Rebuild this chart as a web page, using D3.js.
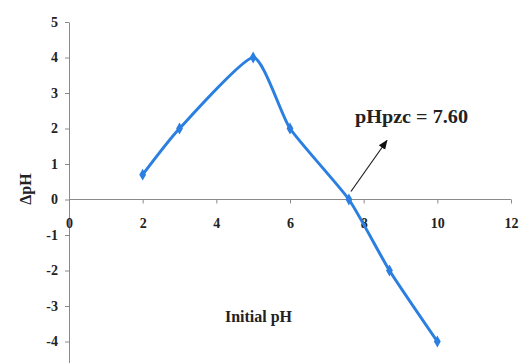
<!DOCTYPE html>
<html>
<head>
<meta charset="utf-8">
<style>
  body { margin: 0; background: #fff; }
  svg { display: block; font-family: 'Liberation Serif', 'Times New Roman', serif; }
  .axis path, .axis line { stroke: #8a8a8a; }
  .axis text { font-family: 'Liberation Serif', 'Times New Roman', serif; font-size: 14px; font-weight: bold; fill: #222; }
</style>
</head>
<body>
<svg width="523" height="363"></svg>
<script src="https://d3js.org/d3.v7.min.js"></script>
<script>
  // data
  let initialPH = [2, 3, 5, 6, 7.6, 8.7, 10];
  let deltaPH = [0.7, 2, 4, 2, 0, -2, -4];
  let xTicks = [0, 2, 4, 6, 8, 10, 12];
  let yTicks = [-4, -3, -2, -1, 0, 1, 2, 3, 4, 5];
  let pzc = 7.60;

  let points = initialPH.map((x, i) => ({ x: x, y: deltaPH[i] }));

  let svg = d3.select("svg");

  let x = d3.scaleLinear().domain([0, 12]).range([69, 511]);
  let y = d3.scaleLinear().domain([-5, 5]).range([377, 22]);

  // y axis
  let yAxis = svg.append("g")
    .attr("class", "axis")
    .attr("font-family", null)
    .attr("transform", "translate(" + x(0) + ",0)")
    .call(d3.axisLeft(y).tickValues(yTicks).tickSize(4).tickSizeOuter(0)
      .tickFormat(d => String(d)));
  yAxis.attr("font-family", null).attr("font-size", null);
  yAxis.selectAll("text").attr("dx", -4);

  // x axis through zero
  let xAxis = svg.append("g")
    .attr("class", "axis")
    .attr("transform", "translate(0," + y(0) + ")")
    .call(d3.axisBottom(x).tickValues(xTicks).tickSize(4).tickSizeOuter(0));
  xAxis.attr("font-family", null).attr("font-size", null);
  xAxis.selectAll("text").attr("dy", "1.5em");
  xAxis.select(".domain").attr("d", "M" + x(0) + ",0H" + x(12));

  // line
  let line = d3.line()
    .x(d => x(d.x))
    .y(d => y(d.y))
    .curve(d3.curveCardinal.tension(0.45));

  svg.append("path")
    .datum(points)
    .attr("d", line)
    .style("fill", "none")
    .style("stroke", "#2a7fe0")
    .style("stroke-width", 3);

  svg.selectAll(".pt")
    .data(points)
    .join("path")
    .attr("class", "pt")
    .attr("d", d3.symbol().type(d3.symbolDiamond).size(40))
    .attr("transform", d => "translate(" + x(d.x) + "," + y(d.y) + ")")
    .style("fill", "#2a7fe0");

  // arrow to pzc
  svg.append("defs").append("marker")
    .attr("id", "head")
    .attr("viewBox", "0 0 10 10")
    .attr("refX", 9).attr("refY", 5)
    .attr("markerWidth", 8).attr("markerHeight", 8)
    .attr("orient", "auto")
    .append("path")
    .attr("d", "M0,1L10,5L0,9Z")
    .style("fill", "#111");

  svg.append("line")
    .attr("x1", x(pzc) + 2).attr("y1", y(0) - 8)
    .attr("x2", x(pzc) + 38).attr("y2", y(0) - 59)
    .style("stroke", "#222")
    .style("stroke-width", 1.2)
    .attr("marker-end", "url(#head)");

  svg.append("text")
    .attr("x", 355).attr("y", 123)
    .attr("textLength", 113)
    .attr("lengthAdjust", "spacingAndGlyphs")
    .style("font-size", "19px")
    .style("font-weight", "bold")
    .style("fill", "#222")
    .text("pHpzc = " + pzc.toFixed(2));

  // axis titles
  svg.append("text")
    .attr("x", 225).attr("y", 322)
    .attr("textLength", 67)
    .attr("lengthAdjust", "spacingAndGlyphs")
    .style("font-size", "16px")
    .style("font-weight", "bold")
    .style("fill", "#222")
    .text("Initial pH");

  svg.append("text")
    .attr("transform", "translate(31,189) rotate(-90)")
    .attr("text-anchor", "middle")
    .style("font-size", "16px")
    .style("font-weight", "bold")
    .style("fill", "#222")
    .text("ΔpH");
</script>
</body>
</html>
